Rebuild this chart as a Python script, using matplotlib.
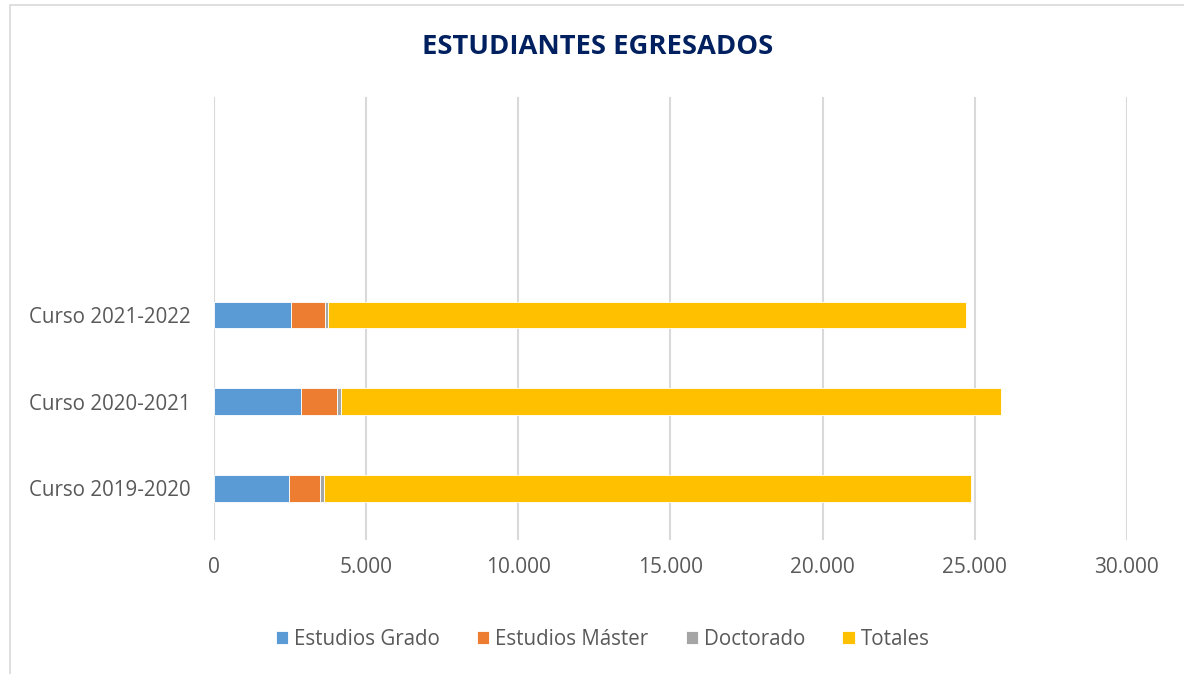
import numpy as np
import matplotlib.pyplot as plt
from matplotlib.patches import Rectangle
from matplotlib.ticker import FuncFormatter

cursos = ['Curso 2019-2020', 'Curso 2020-2021', 'Curso 2021-2022']
grado = [2475, 2869, 2540]
master = [1009, 1183, 1117]
doctorado = [141, 131, 90]
totales = [21263, 21681, 20958]

series = ['Estudios Grado', 'Estudios Máster', 'Doctorado', 'Totales']
colores = ['#5B9BD5', '#ED7D31', '#A5A5A5', '#FFC000']

plt.rcParams['font.family'] = ['Open Sans', 'DejaVu Sans']

fig = plt.figure(figsize=(11.84, 6.74), dpi=100)
ax = fig.add_axes([0.1807, 0.199, 0.7711, 0.657])

# chart border like the spreadsheet export
fig.patches.append(Rectangle((10 / 1184, -0.01), 1.0, 1 - 5 / 674 + 0.01,
                             transform=fig.transFigure, fill=False,
                             edgecolor='#d9d9d9', linewidth=1.2))

y = np.arange(len(cursos))
left = np.zeros(len(cursos))
for vals, name, c in zip([grado, master, doctorado, totales], series, colores):
    ax.barh(y, vals, left=left, height=0.31, color=c, label=name,
            edgecolor='white', linewidth=0.6, zorder=3)
    left = left + np.array(vals)

ax.set_xlim(0, 30000)
ax.set_ylim(-0.594, 4.514)
ax.set_xticks(np.arange(0, 30001, 5000))
ax.xaxis.set_major_formatter(FuncFormatter(lambda v, p: f'{int(v):,}'.replace(',', '.')))
ax.set_yticks(y)
ax.set_yticklabels(cursos)
ax.grid(axis='x', color='#d9d9d9', linewidth=1.5, zorder=0)
for s in ax.spines.values():
    s.set_visible(False)
ax.tick_params(length=0, colors='#595959')
ax.tick_params(axis='y', labelsize=14.8, pad=17)
ax.tick_params(axis='x', labelsize=15, pad=12)

fig.text(0.505, 0.930, 'ESTUDIANTES EGRESADOS', ha='center', va='center',
         fontsize=19.7, fontweight='bold', color='#002060')

fig.legend(loc='center', bbox_to_anchor=(0.509, 0.051), ncol=4, frameon=False,
           fontsize=14.8, handlelength=0.6, handleheight=0.6, handletextpad=0.3,
           columnspacing=1.8, labelcolor='#595959')

fig.savefig('out.png', dpi=100)
